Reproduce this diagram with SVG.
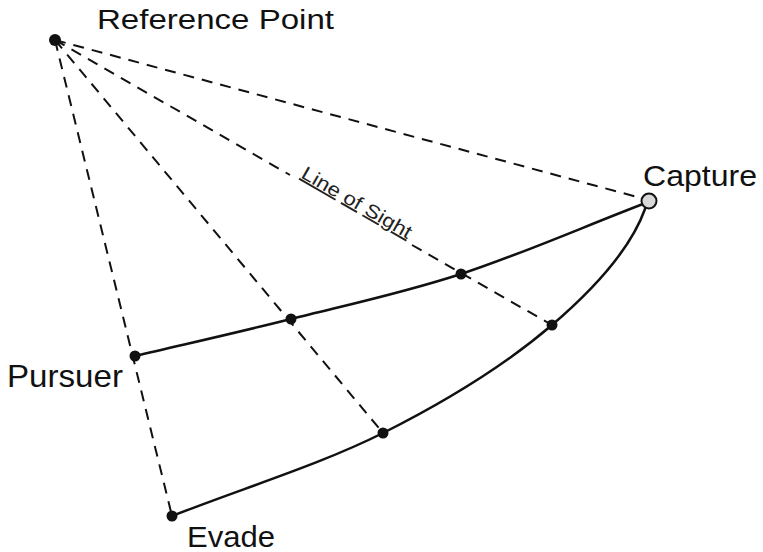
<svg xmlns="http://www.w3.org/2000/svg" width="763" height="552" viewBox="0 0 763 552">
<style>
.dash{fill:none;stroke:#111;stroke-width:2;stroke-dasharray:11 8}
.path{fill:none;stroke:#111;stroke-width:2.5;stroke-linecap:round}
.dot{fill:#111}
.lbl{font-family:"Liberation Sans",Arial,sans-serif;fill:#111}
.los{font-family:"Liberation Sans",Arial,sans-serif;fill:#222;font-size:19px}
</style>
<rect width="763" height="552" fill="#fff"/>
<g id="connectors">
<line class="dash" x1="55" y1="40" x2="172" y2="516"/>
<line class="dash" x1="55" y1="40" x2="383" y2="433"/>
<line class="dash" x1="55" y1="40" x2="290" y2="175"/>
<line class="dash" x1="412" y1="245" x2="552" y2="325"/>
<line class="dash" x1="55" y1="40" x2="641" y2="198"/>
<path id="pursuer-path" class="path" d="M135,356 C187,343.7 236.7,332.7 291,319 C345.3,305.3 402,293.3 461,274 C520,254.7 583.7,226.7 643,204"/>
<path id="evader-path" class="path" d="M172,516 C242.3,488.3 319.7,464.8 383,433 C446.3,401.2 508.2,362.5 552,325 C595.8,287.5 631,248 645,209"/>
</g>
<g id="reference-point">
<circle class="dot" cx="55" cy="40" r="6"/>
<text class="lbl" x="97" y="29" font-size="27" textLength="237" lengthAdjust="spacingAndGlyphs">Reference Point</text>
</g>
<g id="line-of-sight">
<text class="los" transform="translate(300,177) rotate(30)" textLength="124" lengthAdjust="spacingAndGlyphs"><tspan text-decoration="underline">Line</tspan> <tspan text-decoration="underline">of</tspan> <tspan text-decoration="underline">Sight</tspan></text>
</g>
<g id="capture">
<circle cx="649" cy="201" r="7.5" fill="#d8d8d8" stroke="#111" stroke-width="2"/>
<text class="lbl" x="643" y="186" font-size="29" textLength="114" lengthAdjust="spacingAndGlyphs">Capture</text>
</g>
<g id="pursuer">
<circle class="dot" cx="135" cy="356" r="5.5"/>
<text class="lbl" x="7" y="387" font-size="32" textLength="116" lengthAdjust="spacingAndGlyphs">Pursuer</text>
</g>
<g id="evader">
<circle class="dot" cx="172" cy="516" r="5.5"/>
<text class="lbl" x="187" y="547" font-size="30" textLength="88" lengthAdjust="spacingAndGlyphs">Evade</text>
</g>
<g id="waypoints">
<circle class="dot" cx="291" cy="319" r="5.5"/>
<circle class="dot" cx="461" cy="274" r="5.5"/>
<circle class="dot" cx="383" cy="433" r="5.5"/>
<circle class="dot" cx="552" cy="325" r="5.5"/>
</g>
</svg>
